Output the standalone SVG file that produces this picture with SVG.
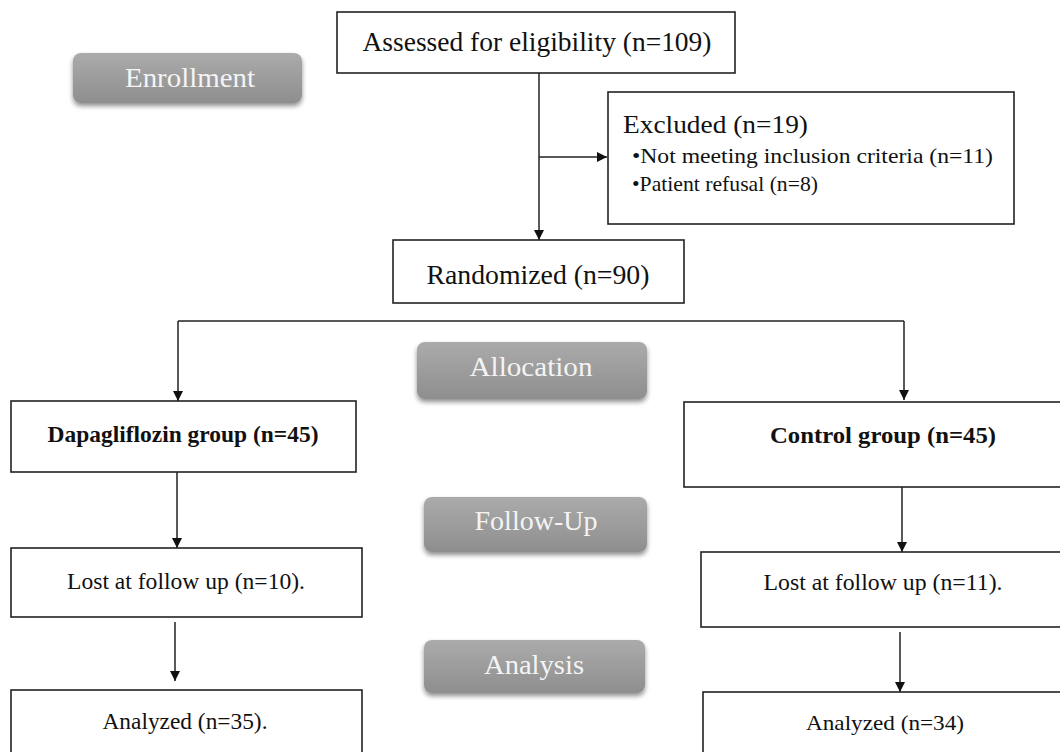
<svg xmlns="http://www.w3.org/2000/svg" width="1060" height="752" viewBox="0 0 1060 752">
<defs>
<linearGradient id="btn" x1="0" y1="0" x2="0" y2="1">
<stop offset="0" stop-color="#ababab"/>
<stop offset="1" stop-color="#8e8e8e"/>
</linearGradient>
<filter id="sh" x="-10%" y="-20%" width="120%" height="150%">
<feGaussianBlur in="SourceAlpha" stdDeviation="2.5"/>
<feOffset dy="3" result="b"/>
<feComponentTransfer><feFuncA type="linear" slope="0.45"/></feComponentTransfer>
<feMerge><feMergeNode/><feMergeNode in="SourceGraphic"/></feMerge>
</filter>
<marker id="arr" viewBox="0 0 10 10" refX="10" refY="5" markerWidth="10" markerHeight="10" markerUnits="userSpaceOnUse" orient="auto">
<path d="M0,0 L10,5 L0,10 Z" fill="#111"/>
</marker>
</defs>
<style>
.box{fill:#fff;stroke:#222;stroke-width:1.6}
.t{font-family:"Liberation Serif","Times New Roman",serif;fill:#111}
.b{font-weight:bold}
.m{text-anchor:middle}
.btn{fill:url(#btn);filter:url(#sh)}
.bt{font-family:"Liberation Serif","Times New Roman",serif;fill:#f4f4f4;font-size:28px;text-anchor:middle}
.ln{fill:none;stroke:#222;stroke-width:1.5}
</style>
<rect width="1060" height="752" fill="#fff"/>

<g id="enrollment"><rect class="btn" x="73" y="53" width="229" height="50" rx="8"/><text class="bt" x="190" y="87" textLength="130" lengthAdjust="spacingAndGlyphs">Enrollment</text></g>
<g id="allocation"><rect class="btn" x="417" y="342" width="230" height="57" rx="8"/><text class="bt" x="531" y="376" textLength="123" lengthAdjust="spacingAndGlyphs">Allocation</text></g>
<g id="followup"><rect class="btn" x="424" y="497" width="223" height="55" rx="8"/><text class="bt" x="536" y="530" textLength="123" lengthAdjust="spacingAndGlyphs">Follow-Up</text></g>
<g id="analysis"><rect class="btn" x="424" y="640" width="221" height="53" rx="8"/><text class="bt" x="534" y="674" textLength="100" lengthAdjust="spacingAndGlyphs">Analysis</text></g>

<g id="connectors">
<path class="ln" d="M539,73 V240" marker-end="url(#arr)"/>
<path class="ln" d="M539,157 H607" marker-end="url(#arr)"/>
<path class="ln" d="M178,321 H904"/>
<path class="ln" d="M178,321 V401" marker-end="url(#arr)"/>
<path class="ln" d="M904,321 V400" marker-end="url(#arr)"/>
<path class="ln" d="M177,472 V548" marker-end="url(#arr)"/>
<path class="ln" d="M175,622 V681" marker-end="url(#arr)"/>
<path class="ln" d="M902,487 V552" marker-end="url(#arr)"/>
<path class="ln" d="M900,632 V692" marker-end="url(#arr)"/>
</g>

<g id="assessed"><rect class="box" x="337" y="12" width="398" height="61"/><text class="t m" x="537" y="51" font-size="27" textLength="349" lengthAdjust="spacingAndGlyphs">Assessed for eligibility (n=109)</text></g>
<g id="excluded"><rect class="box" x="608" y="92" width="406" height="132"/>
<text class="t" x="623" y="133" font-size="26" textLength="185" lengthAdjust="spacingAndGlyphs">Excluded (n=19)</text>
<text class="t" x="632" y="163" font-size="22" textLength="361" lengthAdjust="spacingAndGlyphs">•Not meeting inclusion criteria (n=11)</text>
<text class="t" x="632" y="191" font-size="22" textLength="186" lengthAdjust="spacingAndGlyphs">•Patient refusal (n=8)</text></g>
<g id="randomized"><rect class="box" x="393" y="240" width="291" height="63"/><text class="t m" x="538" y="284" font-size="27" textLength="223" lengthAdjust="spacingAndGlyphs">Randomized (n=90)</text></g>
<g id="dapagliflozin"><rect class="box" x="11" y="401" width="345" height="71"/><text class="t b m" x="183" y="442" font-size="23" textLength="271" lengthAdjust="spacingAndGlyphs">Dapagliflozin group (n=45)</text></g>
<g id="control"><rect class="box" x="684" y="402" width="380" height="85"/><text class="t b m" x="883" y="443" font-size="23" textLength="226" lengthAdjust="spacingAndGlyphs">Control group (n=45)</text></g>
<g id="lost_left"><rect class="box" x="11" y="548" width="351" height="69"/><text class="t m" x="186" y="589" font-size="24" textLength="238" lengthAdjust="spacingAndGlyphs">Lost at follow up (n=10).</text></g>
<g id="lost_right"><rect class="box" x="701" y="552" width="363" height="75"/><text class="t m" x="883" y="590" font-size="23" textLength="239" lengthAdjust="spacingAndGlyphs">Lost at follow up (n=11).</text></g>
<g id="analyzed_left"><rect class="box" x="11" y="690" width="351" height="70"/><text class="t m" x="185" y="729" font-size="24" textLength="165" lengthAdjust="spacingAndGlyphs">Analyzed (n=35).</text></g>
<g id="analyzed_right"><rect class="box" x="703" y="692" width="361" height="70"/><text class="t m" x="885" y="730" font-size="22" textLength="158" lengthAdjust="spacingAndGlyphs">Analyzed (n=34)</text></g>
</svg>
